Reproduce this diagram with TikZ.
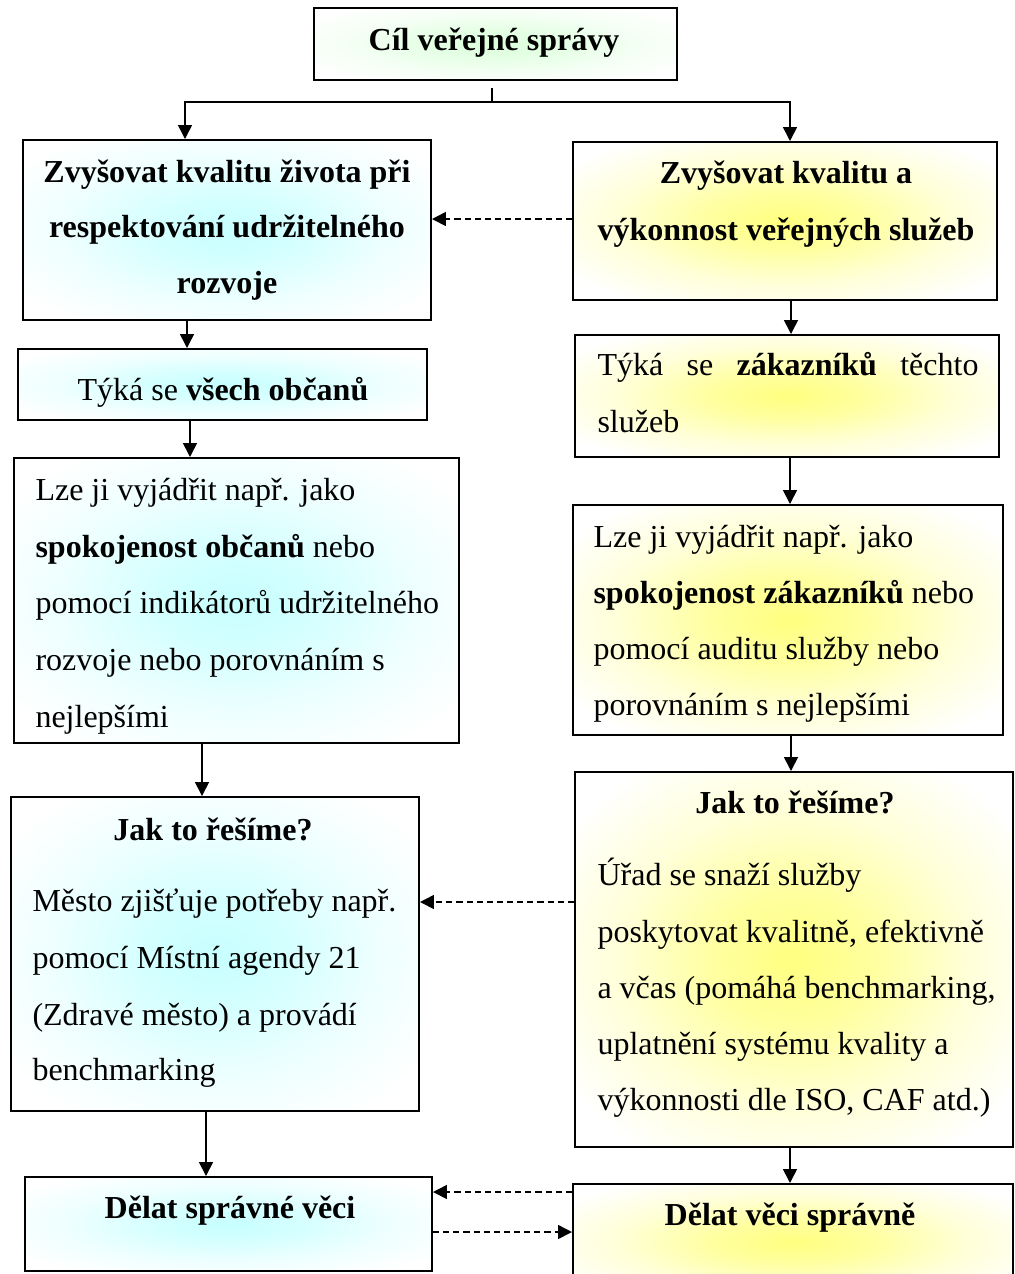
\documentclass[tikz,border=0pt]{standalone}
\usepackage{fontspec}
\setmainfont{Liberation Serif}
\usetikzlibrary{arrows.meta,fit,shadows}

% soft central glow used inside the boxes
\colorlet{glowc}{white}
\pgfdeclareradialshading[glowc]{glow}{\pgfpoint{0bp}{0bp}}{%
  color(0bp)=(glowc); color(9bp)=(glowc!75!white); color(20bp)=(glowc!30!white); color(31bp)=(white); color(50bp)=(white)}

\newlength\pxu
\setlength\pxu{0.375pt}

\tikzset{
  box/.style={draw, line width=0.75pt, fill=white, inner sep=0pt,
    drop shadow={shadow xshift=0.45pt, shadow yshift=-0.45pt, fill=black, opacity=1},
    path picture={\colorlet{glowc}{#1}%
      \shade[shading=glow] (path picture bounding box.south west) rectangle (path picture bounding box.north east);}},
  box/.default=white,
  txt/.style={inner sep=0pt, font=\fontsize{12}{14}\selectfont},
  lefttxt/.style={txt, anchor=base west},
  midtxt/.style={txt, anchor=base, font=\fontsize{12}{14}\selectfont\bfseries},
  conn/.style={line width=0.6pt},
  arrow/.style={conn, -{Triangle[length=5.2pt,width=5.2pt]}},
  dasharrow/.style={arrow, dash pattern=on 2.3pt off 1.5pt},
}

\begin{document}
\begin{tikzpicture}[x=0.375pt, y=-0.375pt]
\useasboundingbox (0,0) rectangle (1015,1274);

% ---------- boxes ----------
\node[box=green!14,  fit={(314,8) (677,80)}]      (T) {};
\node[box=cyan!22,   fit={(23,140) (431,320)}]    (A) {};
\node[box=yellow!50, fit={(573,142) (997,300)}]   (B) {};
\node[box=cyan!22,   fit={(18,349) (427,420)}]    (C) {};
\node[box=yellow!50, fit={(575,335) (999,457)}]   (D) {};
\node[box=cyan!22,   fit={(14,458) (459,743)}]    (E) {};
\node[box=yellow!50, fit={(573,505) (1003,735)}]  (F) {};
\node[box=cyan!22,   fit={(11,797) (419,1111)}]   (G) {};
\node[box=yellow!50, fit={(575,772) (1013,1147)}] (H) {};
\node[box=cyan!22,   fit={(25,1177) (432,1271)}]  (I) {};
\node[box=yellow!50, fit={(573,1184) (1013,1300)}] (J) {};

% ---------- texts ----------
\node[midtxt] (t1) at (494,50) {Cíl veřejné správy};

\node[midtxt] (a1) at (227,182) {Zvyšovat kvalitu života při};
\node[midtxt] (a2) at (227,237) {respektování udržitelného};
\node[midtxt] (a3) at (227,293) {rozvoje};

\node[midtxt] (b1) at (786,183) {Zvyšovat kvalitu a};
\node[midtxt] (b2) at (786,240) {výkonnost veřejných služeb};

\node[txt, anchor=base] (c1) at (223,400) {Týká se \textbf{všech občanů}};

\node[lefttxt] (d1) at (597,375) {\makebox[381\pxu][s]{Týká se \textbf{zákazníků} těchto}};
\node[lefttxt] (d2) at (597,432) {služeb};

\node[lefttxt] (e1) at (35,500) {Lze ji vyjádřit např. jako};
\node[lefttxt] (e2) at (35,557) {\textbf{spokojenost občanů} nebo};
\node[lefttxt] (e3) at (35,613) {pomocí indikátorů udržitelného};
\node[lefttxt] (e4) at (35,670) {rozvoje nebo porovnáním s};
\node[lefttxt] (e5) at (35,727) {nejlepšími};

\node[lefttxt] (f1) at (593,547) {Lze ji vyjádřit např. jako};
\node[lefttxt] (f2) at (593,603) {\textbf{spokojenost zákazníků} nebo};
\node[lefttxt] (f3) at (593,659) {pomocí auditu služby nebo};
\node[lefttxt] (f4) at (593,715) {porovnáním s nejlepšími};

\node[midtxt] (g0) at (213,840) {Jak to řešíme?};
\node[lefttxt] (g1) at (32,911) {Město zjišťuje potřeby např.};
\node[lefttxt] (g2) at (32,968) {pomocí Místní agendy 21};
\node[lefttxt] (g3) at (32,1025) {(Zdravé město) a provádí};
\node[lefttxt] (g4) at (32,1080) {benchmarking};

\node[midtxt] (h0) at (795,813) {Jak to řešíme?};
\node[lefttxt] (h1) at (597,885) {Úřad se snaží služby};
\node[lefttxt] (h2) at (597,942) {poskytovat kvalitně, efektivně};
\node[lefttxt] (h3) at (597,998) {a včas (pomáhá benchmarking,};
\node[lefttxt] (h4) at (597,1054) {uplatnění systému kvality a};
\node[lefttxt] (h5) at (597,1110) {výkonnosti dle ISO, CAF atd.)};

\node[midtxt] (i1) at (230,1218) {Dělat správné věci};
\node[midtxt] (j1) at (790,1225) {Dělat věci správně};

% ---------- connector guides ----------
\coordinate (split) at (492,102);
\coordinate (xa) at (185,0);
\coordinate (xb) at (790,0);
\coordinate (x1) at (187,0);
\coordinate (x2) at (190,0);
\coordinate (x3) at (202,0);
\coordinate (x4) at (206,0);
\coordinate (x5) at (791,0);
\coordinate (x6) at (790,0);
\coordinate (x7) at (791,0);
\coordinate (x8) at (790,0);
\coordinate (y1) at (0,219);
\coordinate (y2) at (0,902);
\coordinate (y3) at (0,1192);
\coordinate (y4) at (0,1232);

% ---------- connectors ----------
\draw[conn, shorten <=2.6pt] (T.south -| split) -- (split);
\draw[arrow] (split) -| (A.north -| xa);
\draw[arrow] (split) -| (B.north -| xb);

\draw[arrow] (A.south -| x1) -- (C.north -| x1);
\draw[arrow] (C.south -| x2) -- (E.north -| x2);
\draw[arrow] (E.south -| x3) -- (G.north -| x3);
\draw[arrow] (G.south -| x4) -- (I.north -| x4);

\draw[arrow] (B.south -| x5) -- (D.north -| x5);
\draw[arrow] (D.south -| x6) -- (F.north -| x6);
\draw[arrow] (F.south -| x7) -- (H.north -| x7);
\draw[arrow] (H.south -| x8) -- (J.north -| x8);

\draw[dasharrow] (B.west |- y1) -- (A.east |- y1);
\draw[dasharrow] (H.west |- y2) -- (G.east |- y2);
\draw[dasharrow] (J.west |- y3) -- (I.east |- y3);
\draw[dasharrow] (I.east |- y4) -- (J.west |- y4);
\end{tikzpicture}
\end{document}
